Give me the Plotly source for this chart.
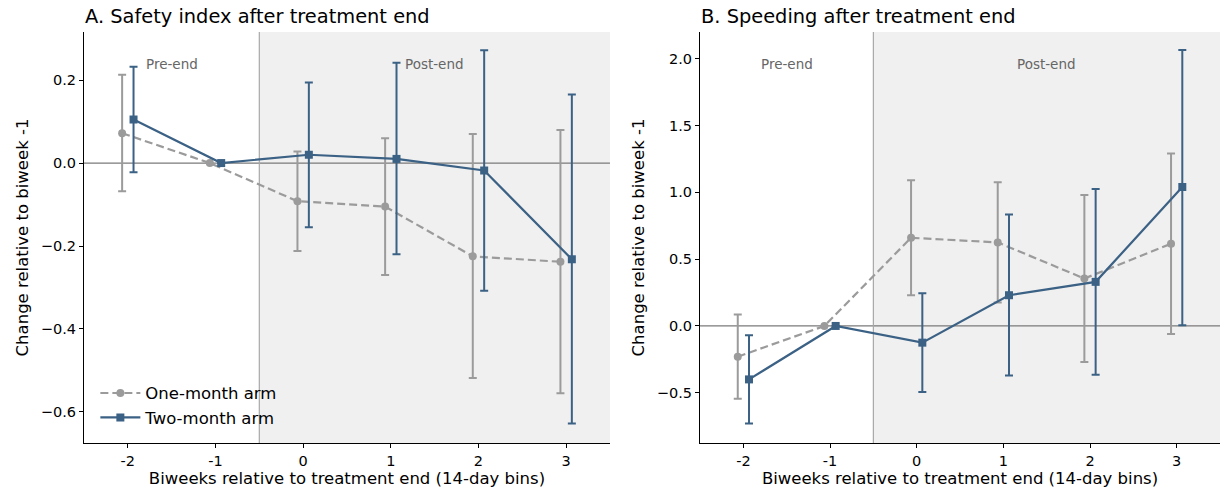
import plotly.graph_objects as go
from plotly.subplots import make_subplots

bins = [-2, -1, 0, 1, 2, 3]
tick_labels = ["-2", "-1", "0", "1", "2", "3"]

# Panel A: Safety index
a_one = [0.072, 0.0, -0.092, -0.105, -0.225, -0.238]
a_one_lo = [-0.068, 0.0, -0.212, -0.270, -0.518, -0.555]
a_one_hi = [0.213, 0.0, 0.028, 0.060, 0.070, 0.080]
a_two = [0.105, 0.0, 0.020, 0.010, -0.018, -0.232]
a_two_lo = [-0.022, 0.0, -0.155, -0.220, -0.308, -0.628]
a_two_hi = [0.232, 0.0, 0.194, 0.242, 0.272, 0.165]

# Panel B: Speeding
b_one = [-0.230, 0.0, 0.660, 0.625, 0.355, 0.615]
b_one_lo = [-0.545, 0.0, 0.230, 0.175, -0.270, -0.060]
b_one_hi = [0.085, 0.0, 1.090, 1.075, 0.980, 1.290]
b_two = [-0.400, 0.0, -0.125, 0.230, 0.330, 1.040]
b_two_lo = [-0.730, 0.0, -0.495, -0.370, -0.365, 0.005]
b_two_hi = [-0.070, 0.0, 0.245, 0.835, 1.025, 2.065]

GRAY = "#9b9b9b"
BLUE = "#3b6185"
FONT = "DejaVu Sans"
OFF = 0.065

fig = make_subplots(rows=1, cols=2, horizontal_spacing=0.08)

def add_series(col, xs, ys, lo, hi, color, dash, symbol, name, show):
    plus = [h - y for y, h in zip(ys, hi)]
    minus = [y - l for y, l in zip(ys, lo)]
    fig.add_trace(go.Scatter(
        x=xs, y=ys, mode="lines+markers", name=name, showlegend=show,
        line=dict(color=color, width=2.2, dash=dash),
        marker=dict(color=color, size=8, symbol=symbol),
        error_y=dict(type="data", symmetric=False, array=plus, arrayminus=minus,
                     color=color, thickness=2, width=4),
    ), row=1, col=col)

xo = [b - OFF for b in bins]
xt = [b + OFF for b in bins]
add_series(1, xo, a_one, a_one_lo, a_one_hi, GRAY, "8px,4px", "circle", "One-month arm", True)
add_series(1, xt, a_two, a_two_lo, a_two_hi, BLUE, "solid", "square", "Two-month arm", True)
add_series(2, xo, b_one, b_one_lo, b_one_hi, GRAY, "8px,4px", "circle", "One-month arm", False)
add_series(2, xt, b_two, b_two_lo, b_two_hi, BLUE, "solid", "square", "Two-month arm", False)

shapes = []
annotations = []
titles = ["A. Safety index after treatment end", "B. Speeding after treatment end"]
for i, (xr, yr) in enumerate([("x", "y"), ("x2", "y2")]):
    shapes.append(dict(type="rect", xref=xr, yref=yr + " domain", x0=-0.5, x1=3.5, y0=0, y1=1,
                       fillcolor="#f0f0f0", line=dict(width=0), layer="below"))
    shapes.append(dict(type="line", xref=xr + " domain", yref=yr, x0=0, x1=1, y0=0, y1=0,
                       line=dict(color="#7a7a7a", width=1.2), layer="below"))
    shapes.append(dict(type="line", xref=xr, yref=yr + " domain", x0=-0.5, x1=-0.5, y0=0, y1=1,
                       line=dict(color="#a8a8a8", width=1.2), layer="below"))
    annotations.append(dict(text="Pre-end", xref=xr, yref=yr + " domain", x=-1.5, y=0.947,
                            showarrow=False, font=dict(family=FONT, size=13.5, color="#666666")))
    annotations.append(dict(text="Post-end", xref=xr, yref=yr + " domain", x=1.5, y=0.947,
                            showarrow=False, font=dict(family=FONT, size=13.5, color="#666666")))
    annotations.append(dict(text=titles[i], xref=xr + " domain", yref="paper", x=-0.002, y=1.0,
                            yshift=16, xanchor="left", yanchor="middle", showarrow=False,
                            font=dict(family=FONT, size=19.4, color="black")))

fig.update_layout(
    width=1221, height=496,
    margin=dict(l=84, r=1, t=32, b=53),
    paper_bgcolor="white", plot_bgcolor="white",
    font=dict(family=FONT, size=14.5, color="black"),
    shapes=shapes, annotations=annotations,
    legend=dict(x=0.01, y=0.02, xanchor="left", yanchor="bottom", bgcolor="rgba(0,0,0,0)",
                font=dict(family=FONT, size=16.5), itemwidth=40, tracegroupgap=2),
)

fig.update_xaxes(domain=[0, 0.463], row=1, col=1)
fig.update_xaxes(domain=[0.5423, 1.0], row=1, col=2)

for col in (1, 2):
    fig.update_xaxes(row=1, col=col, range=[-2.5, 3.5], tickvals=bins, ticktext=tick_labels,
                     showgrid=False, zeroline=False, showline=True, linecolor="black", linewidth=1.2,
                     ticks="outside", ticklen=4, tickcolor="black", tickfont=dict(size=14.5),
                     title=dict(text="Biweeks relative to treatment end (14-day bins)",
                                font=dict(size=16.5), standoff=4))

ya_vals = [-0.6, -0.4, -0.2, 0.0, 0.2]
ya_text = ["\u22120.6", "\u22120.4", "\u22120.2", "0.0", "0.2"]
yb_vals = [-0.5, 0.0, 0.5, 1.0, 1.5, 2.0]
yb_text = ["\u22120.5", "0.0", "0.5", "1.0", "1.5", "2.0"]

fig.update_yaxes(row=1, col=1, range=[-0.675, 0.316], tickvals=ya_vals, ticktext=ya_text)
fig.update_yaxes(row=1, col=2, range=[-0.876, 2.20], tickvals=yb_vals, ticktext=yb_text)
for col in (1, 2):
    fig.update_yaxes(row=1, col=col, showgrid=False, zeroline=False, showline=True,
                     linecolor="black", linewidth=1.2, ticks="outside", ticklen=4,
                     tickcolor="black", tickfont=dict(size=14.5),
                     title=dict(text="Change relative to biweek -1", font=dict(size=16.5), standoff=8))

fig.write_html("out.html")
